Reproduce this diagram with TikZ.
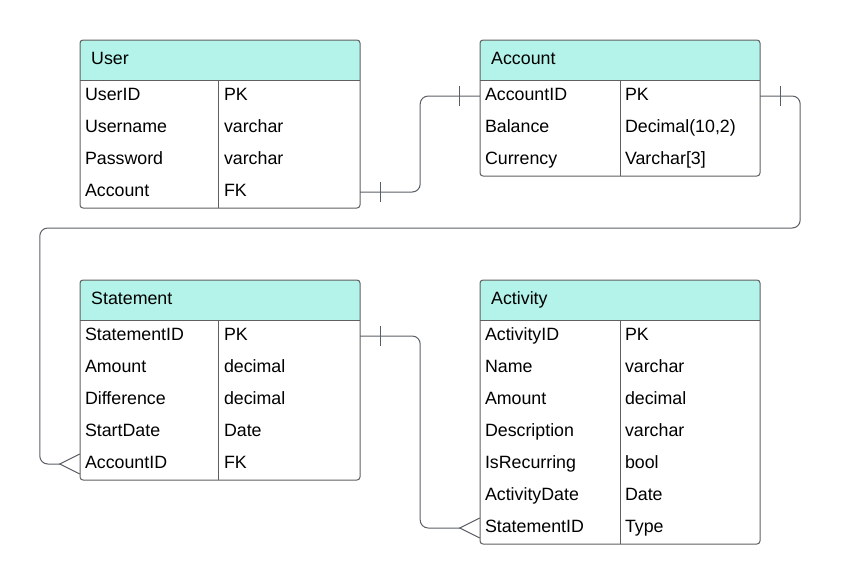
\documentclass[tikz,border=0pt]{standalone}
\usepackage{fontspec}
\setmainfont{Liberation Sans}
\usetikzlibrary{positioning}
\definecolor{hdrcol}{HTML}{B3F3EA}
\definecolor{linecol}{HTML}{606060}
\definecolor{wirecol}{HTML}{5A5F66}
\tikzset{
  tbl/.style={draw=linecol, line width=1pt},
  row/.style={minimum width=280pt, minimum height=32pt, inner sep=0pt},
  field/.style={anchor=base west, inner sep=0pt, font=\fontsize{17.8}{20}\selectfont},
  wire/.style={draw=wirecol, line width=1pt, rounded corners=8pt},
  tick/.style={draw=wirecol, line width=1pt},
}
\begin{document}
\begin{tikzpicture}[x=1pt, y=-1pt]
    \useasboundingbox (0,0) rectangle (841,584);
    % User
    \fill[hdrcol] (80,80) [rounded corners=3pt] -- (80,40) -- (360,40) [sharp corners] -- (360,80) -- cycle;
    \draw[tbl, rounded corners=3pt] (80,40) rectangle (360,208);
    \draw[tbl] (80,80) -- (360,80);
    \draw[tbl] (218,80) -- (218,208);
    \node[field] (userHead) at (91,64) {User};
    \foreach \n/\t [count=\i] in {UserID/PK, Username/varchar, Password/varchar, Account/FK} {
      \node[row] (user\i) at (220,64+32*\i) {};
      \node[field] (user\i n) at ([shift={(5,4)}]user\i.west) {\n};
      \node[field] (user\i t) at ([shift={(144,4)}]user\i.west) {\t};
    }
    % Account
    \fill[hdrcol] (480,80) [rounded corners=3pt] -- (480,40) -- (760,40) [sharp corners] -- (760,80) -- cycle;
    \draw[tbl, rounded corners=3pt] (480,40) rectangle (760,176);
    \draw[tbl] (480,80) -- (760,80);
    \draw[tbl] (620,80) -- (620,176);
    \node[field] (acctHead) at (491,64) {Account};
    \foreach \n/\t [count=\i] in {AccountID/PK, Balance/{Decimal(10,2)}, Currency/{Varchar[3]}} {
      \node[row] (acct\i) at (620,64+32*\i) {};
      \node[field] (acct\i n) at ([shift={(5,4)}]acct\i.west) {\n};
      \node[field] (acct\i t) at ([shift={(145,4)}]acct\i.west) {\t};
    }
    % Statement
    \fill[hdrcol] (80,320) [rounded corners=3pt] -- (80,280) -- (360,280) [sharp corners] -- (360,320) -- cycle;
    \draw[tbl, rounded corners=3pt] (80,280) rectangle (360,480);
    \draw[tbl] (80,320) -- (360,320);
    \draw[tbl] (218,320) -- (218,480);
    \node[field] (stmtHead) at (91,304) {Statement};
    \foreach \n/\t [count=\i] in {StatementID/PK, Amount/decimal, Difference/decimal, StartDate/Date, AccountID/FK} {
      \node[row] (stmt\i) at (220,304+32*\i) {};
      \node[field] (stmt\i n) at ([shift={(5,4)}]stmt\i.west) {\n};
      \node[field] (stmt\i t) at ([shift={(144,4)}]stmt\i.west) {\t};
    }
    % Activity
    \fill[hdrcol] (480,320) [rounded corners=3pt] -- (480,280) -- (760,280) [sharp corners] -- (760,320) -- cycle;
    \draw[tbl, rounded corners=3pt] (480,280) rectangle (760,544);
    \draw[tbl] (480,320) -- (760,320);
    \draw[tbl] (620,320) -- (620,544);
    \node[field] (actHead) at (491,304) {Activity};
    \foreach \n/\t [count=\i] in {ActivityID/PK, Name/varchar, Amount/decimal, Description/varchar, IsRecurring/bool, ActivityDate/Date, StatementID/Type} {
      \node[row] (act\i) at (620,304+32*\i) {};
      \node[field] (act\i n) at ([shift={(5,4)}]act\i.west) {\n};
      \node[field] (act\i t) at ([shift={(145,4)}]act\i.west) {\t};
    }
    % User -- Account
    \draw[wire] (user4.east) -- ++(60,0) |- (acct1.west);
    \draw[tick] ([shift={(20,-10)}]user4.east) -- ++(0,20);
    \draw[tick] ([shift={(-20,-10)}]acct1.west) -- ++(0,20);
    % Account -- Statement
    \coordinate (sFoot) at ([xshift=-20pt]stmt5.west);
    \draw[wire] (acct1.east) -| ++(40,132) -| ([xshift=-40pt]stmt5.west) -- (sFoot);
    \draw[tick] ([shift={(20,-10)}]acct1.east) -- ++(0,20);
    \draw[tick] ([shift={(0,-10)}]stmt5.west) -- (sFoot) -- ([shift={(0,10)}]stmt5.west);
    % Statement -- Activity
    \coordinate (aFoot) at ([xshift=-20pt]act7.west);
    \draw[wire] (stmt1.east) -- ++(60,0) |- (aFoot);
    \draw[tick] ([shift={(20,-10)}]stmt1.east) -- ++(0,20);
    \draw[tick] ([shift={(0,-10)}]act7.west) -- (aFoot) -- ([shift={(0,10)}]act7.west);
\end{tikzpicture}
\end{document}
